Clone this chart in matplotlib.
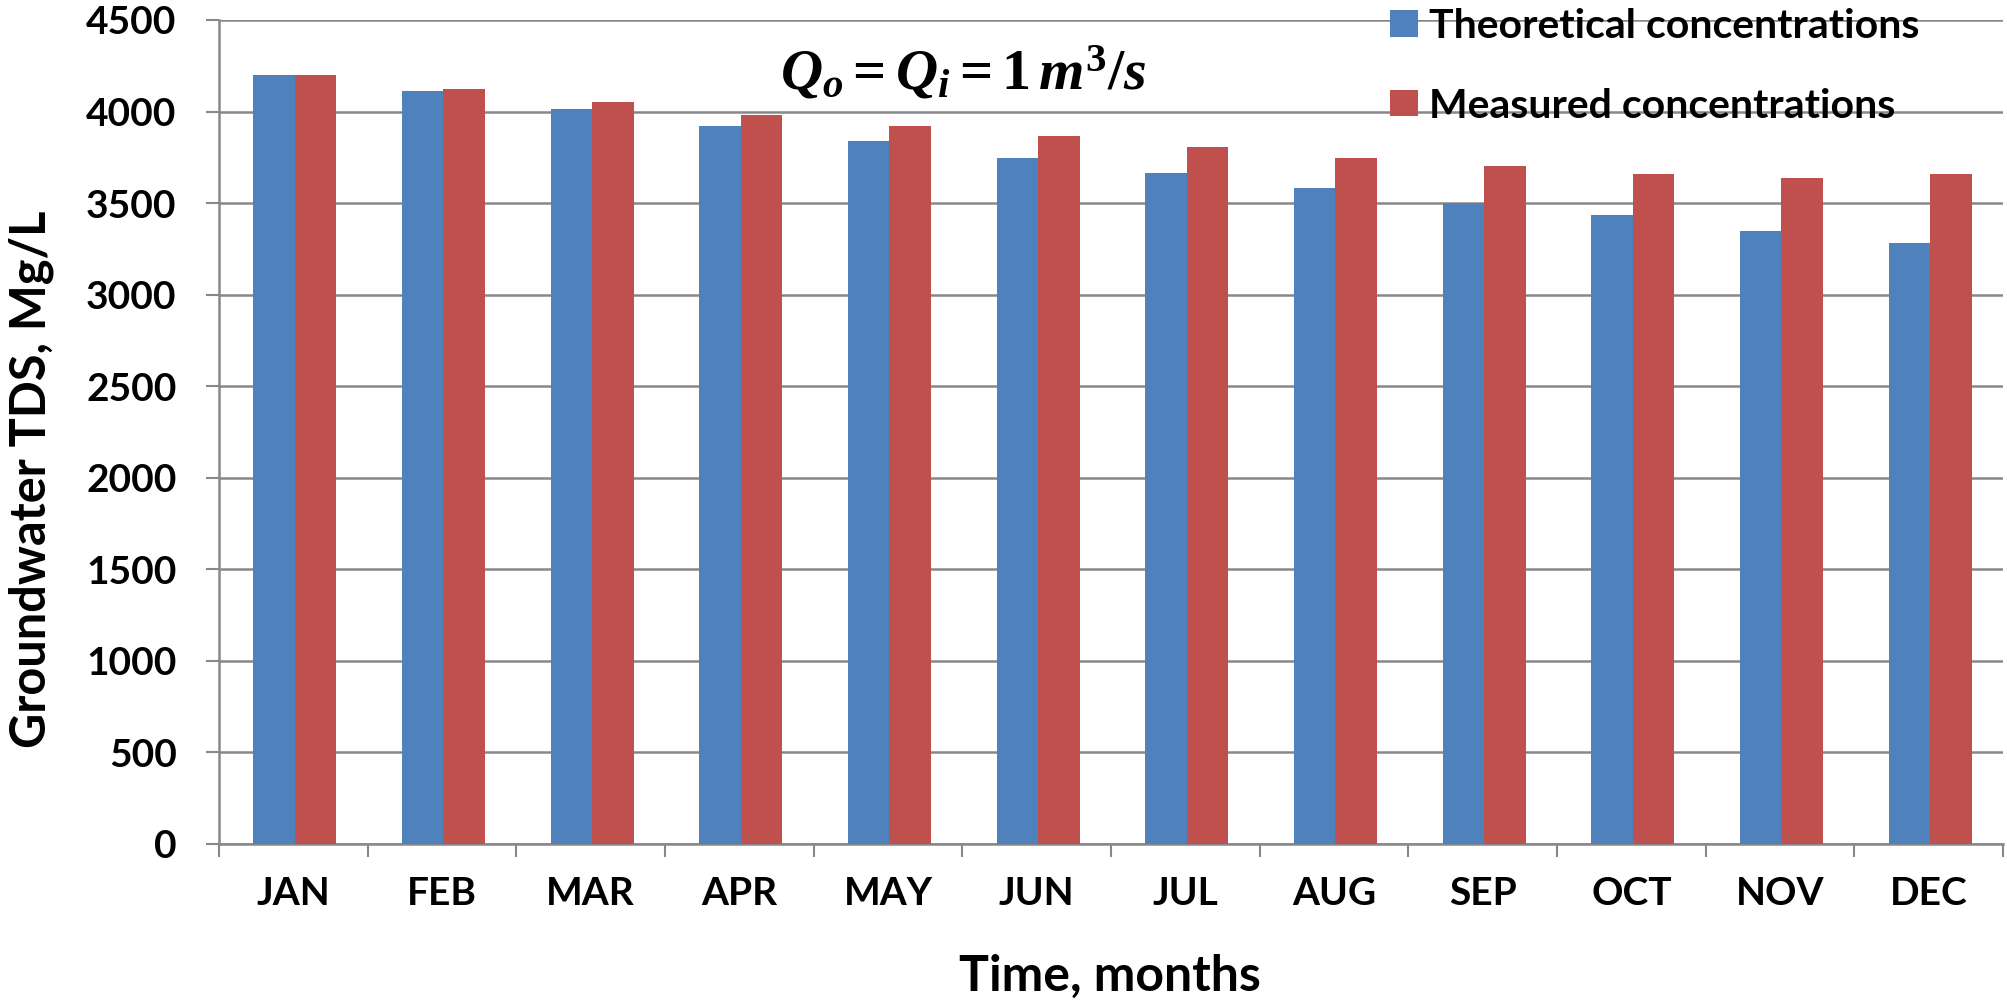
import matplotlib
matplotlib.use("Agg")
import matplotlib.pyplot as plt
import numpy as np

months = ["JAN", "FEB", "MAR", "APR", "MAY", "JUN", "JUL", "AUG", "SEP", "OCT", "NOV", "DEC"]
theoretical = [4200, 4110, 4015, 3922, 3840, 3745, 3665, 3585, 3503, 3433, 3350, 3280]
measured = [4200, 4122, 4051, 3980, 3922, 3864, 3805, 3747, 3705, 3657, 3635, 3657]
yticks = [0, 500, 1000, 1500, 2000, 2500, 3000, 3500, 4000, 4500]

plt.rcParams['font.family'] = ['Lato', 'DejaVu Sans']
plt.rcParams['font.weight'] = 'bold'
plt.rcParams['mathtext.fontset'] = 'custom'
plt.rcParams['mathtext.it'] = 'Liberation Serif:italic:bold'
plt.rcParams['mathtext.rm'] = 'Liberation Serif:bold'
plt.rcParams['mathtext.bf'] = 'Liberation Serif:bold'

W, H = 2008, 1002
fig = plt.figure(figsize=(W / 100, H / 100), dpi=100)
ax = fig.add_axes([219 / W, 1 - 844 / H, (2003 - 219) / W, (844 - 20) / H])

blue = "#4F81BD"
red = "#C0504D"
grid = "#888888"

x = np.arange(len(months))
w = 0.28
ax.bar(x - w / 2 + 0.01, theoretical, width=w, color=blue, label="Theoretical concentrations", zorder=3)
ax.bar(x + w / 2 + 0.01, measured, width=w, color=red, label="Measured concentrations", zorder=3)

ax.set_xlim(-0.5, len(months) - 0.5)
ax.set_ylim(0, 4500)
ax.set_yticks(yticks)
ax.set_yticklabels([str(v) for v in yticks])
ax.yaxis.grid(True, color=grid, linewidth=1.8, zorder=0)
ax.set_axisbelow(True)

ax.set_xticks(np.arange(-0.5, len(months), 1.0))
ax.set_xticklabels([])
ax.set_xticks(x, minor=True)
ax.set_xticklabels(months, minor=True)
ax.tick_params(axis='x', which='major', direction='out', length=9.5, width=1.5, color=grid)
ax.tick_params(axis='x', which='minor', length=0, pad=23, labelsize=28)
ax.tick_params(axis='y', direction='out', length=9.5, width=1.5, color=grid, pad=21, labelsize=28)

ax.spines['right'].set_visible(False)
ax.spines['top'].set_visible(False)
for s in ['left', 'bottom']:
    ax.spines[s].set_color(grid)
    ax.spines[s].set_linewidth(1.8)

fig.text(31 / W, 1 - 479 / H, "Groundwater TDS, Mg/L", rotation=90, ha='center', va='center',
         fontsize=35, fontweight='bold')
fig.text(1110 / W, 1 - 991 / H, "Time, months", ha='center', va='baseline',
         fontsize=36, fontweight='bold')

ax.text(0.4175, 0.937, r"$Q_o = Q_i = 1\,m^3/s$", transform=ax.transAxes,
        ha='center', va='center', fontsize=42)

leg = ax.legend(loc='upper left', bbox_to_anchor=(1390 / W, 0.992), bbox_transform=fig.transFigure,
                frameon=False, fontsize=29.5, handlelength=0.68, handleheight=0.61,
                handletextpad=0.27, labelspacing=1.04, borderpad=0, borderaxespad=0)

fig.savefig("out.png", dpi=100)
